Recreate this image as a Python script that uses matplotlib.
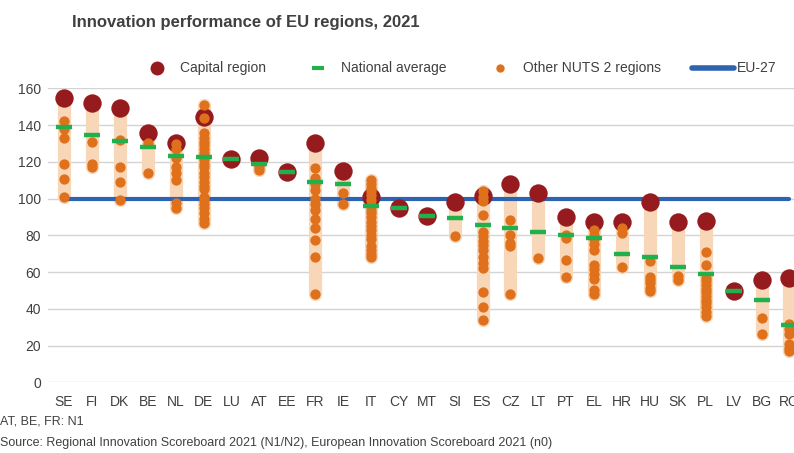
import matplotlib
matplotlib.use("Agg")
import matplotlib.pyplot as plt
from matplotlib.lines import Line2D

plt.rcParams['font.family'] = ['Liberation Sans', 'DejaVu Sans']

countries = ['SE', 'FI', 'DK', 'BE', 'NL', 'DE', 'LU', 'AT', 'EE', 'FR', 'IE', 'IT', 'CY', 'MT',
             'SI', 'ES', 'CZ', 'LT', 'PT', 'EL', 'HR', 'HU', 'SK', 'PL', 'LV', 'BG', 'RO']

capital = [154.8, 151.8, 149.1, 135.5, 130.5, 144.2, 121.5, 121.9, 114.3, 130.0, 115.0, 101.0, 95.0, 90.7,
           98.0, 101.4, 107.9, 102.9, 90.1, 87.1, 87.1, 98.0, 87.4, 88.0, 49.7, 55.7, 56.9]

national = [139.1, 134.8, 131.5, 127.9, 123.2, 122.8, 121.5, 118.8, 114.3, 109.0, 107.8, 96.1, 95.0, 90.7,
            89.2, 85.4, 83.8, 82.0, 80.2, 78.7, 69.7, 68.0, 62.9, 58.8, 49.7, 44.6, 31.2]

others = [
    [142, 138, 133, 119, 110.5, 101],                                      # SE
    [131, 119, 117],                                                       # FI
    [132, 117, 109, 99],                                                   # DK
    [130.5, 114],                                                          # BE
    [129.5, 127, 122, 117, 114, 110, 97.5, 95],                            # NL
    [151, 144, 135.5, 133, 131, 129, 127, 125, 123, 121, 119, 117, 114,
     112, 109, 107, 105, 101, 99, 97, 95, 92, 89, 86.5],                   # DE
    [],                                                                    # LU
    [117, 115.5],                                                          # AT
    [],                                                                    # EE
    [116.5, 111, 108, 104.5, 100, 97, 93.5, 89, 84, 77.5, 68, 48],         # FR
    [103, 97],                                                             # IE
    [110, 108, 106, 104, 102, 99, 96, 94, 92, 90, 87, 85, 83, 80, 78,
     74, 72, 70, 68],                                                      # IT
    [],                                                                    # CY
    [],                                                                    # MT
    [79.8],                                                                # SI
    [104, 101, 98.5, 91, 82, 79.5, 77, 74.5, 72, 68, 65, 62, 49, 41, 34],  # ES
    [88.5, 80, 76, 74, 48],                                                # CZ
    [67.8],                                                                # LT
    [80, 78.5, 66.5, 57.5],                                                # PT
    [83, 80, 78, 75.5, 72, 64, 61.5, 59, 56, 50, 48],                      # EL
    [84, 81, 62.5],                                                        # HR
    [66, 57.5, 55.5, 54, 51.5, 49.5],                                      # HU
    [58, 55.5],                                                            # SK
    [71, 64, 57, 55, 53, 51, 49, 47, 45, 43, 41, 38.5, 36],                # PL
    [],                                                                    # LV
    [35, 26.5],                                                            # BG
    [32, 29, 26.5, 21, 18.5, 17],                                          # RO
]

eu27 = 100

yticks = [0, 20, 40, 60, 80, 100, 120, 140, 160]

cap_col = '#961b1f'
oth_col = '#e0711c'
nat_col = '#21b04b'
eu_col = '#2e63b2'
bar_col = '#f8d6b8'
txt_col = '#404040'

W, H = 794, 453
fig = plt.figure(figsize=(W / 100, H / 100), dpi=100)
ax = fig.add_axes([48 / W, (H - 382.3) / H, 1 - 48 / W, 294 / H])

xs = list(range(len(countries)))

# high-low range bars
for i in xs:
    vals = [capital[i]] + others[i]
    lo, hi = min(vals), max(vals)
    if hi - lo > 0.5:
        ax.plot([i, i], [lo, hi], color=bar_col, lw=9.5, solid_capstyle='round', zorder=1)

ax.plot([xs[0], xs[-1]], [eu27, eu27], color=eu_col, lw=3, solid_capstyle='round', zorder=2)

ax.scatter(xs, capital, s=175, color=cap_col, zorder=3, clip_on=False, linewidths=0)
ox = [i for i in xs for v in others[i]]
oy = [v for i in xs for v in others[i]]
ax.scatter(ox, oy, s=55, color=oth_col, zorder=4, clip_on=False, linewidths=0)
ax.plot(xs, national, ls='none', marker='_', ms=12, mew=3.2, color=nat_col, zorder=5)

ax.set_xlim(-16 / 27.9, (W - 64) / 27.9)
ax.set_ylim(0, 160)
ax.set_yticks(yticks)
ax.set_xticks(xs)
ax.set_xticklabels(countries)
ax.grid(axis='y', color='#d4d4d4', lw=1)
ax.set_axisbelow(True)
for s in ax.spines.values():
    s.set_visible(False)
ax.tick_params(axis='both', length=0, labelsize=10, colors=txt_col)
ax.tick_params(axis='x', pad=9)
ax.tick_params(axis='y', pad=5)

fig.text(72 / W, 1 - 22 / H, 'Innovation performance of EU regions, 2021', fontsize=12,
         fontweight='bold', color=txt_col, va='center', ha='left')

# legend drawn by hand in figure pixels
ly = 1 - 68 / H
def leg_mark(x, **kw):
    fig.add_artist(Line2D([x / W], [ly], transform=fig.transFigure, ls='none', **kw))

leg_mark(157, marker='o', ms=10, color=cap_col, mew=0)
leg_mark(318, marker='_', ms=9, mew=3, color=nat_col)
leg_mark(500, marker='o', ms=6, color=oth_col, mew=0)
fig.add_artist(Line2D([692 / W, 734 / W], [ly, ly], transform=fig.transFigure, color=eu_col, lw=4,
                      solid_capstyle='round'))
for x, t in [(180, 'Capital region'), (341, 'National average'), (523, 'Other NUTS 2 regions'),
             (737, 'EU-27')]:
    fig.text(x / W, ly, t, fontsize=10, color=txt_col, va='center', ha='left')

fig.text(0.0, 1 - 422 / H, 'AT, BE, FR: N1', fontsize=9, color=txt_col, va='center')
fig.text(0.0, 1 - 443 / H,
         'Source: Regional Innovation Scoreboard 2021 (N1/N2), European Innovation Scoreboard 2021 (n0)',
         fontsize=9, color=txt_col, va='center')

fig.savefig('out.png', dpi=100)
